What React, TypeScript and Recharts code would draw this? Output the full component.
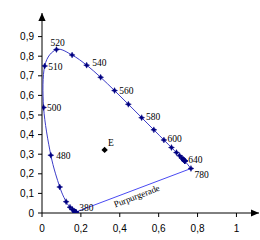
import React from 'react';
import { ScatterChart, Scatter, XAxis, YAxis, ReferenceDot } from 'recharts';

// Spectral locus (wavelength in nm, chromaticity x, y)
const wavelengths = [380, 390, 400, 410, 420, 430, 440, 450, 460, 470, 480, 490, 500, 510, 520, 530, 540, 550, 560, 570, 580, 590, 600, 610, 620, 630, 640, 650, 660, 670, 680, 690, 700, 780];
const locusX = [0.1741, 0.1738, 0.1733, 0.1726, 0.1714, 0.1689, 0.1644, 0.1566, 0.1440, 0.1241, 0.0913, 0.0454, 0.0082, 0.0139, 0.0743, 0.1547, 0.2296, 0.3016, 0.3731, 0.4441, 0.5125, 0.5752, 0.6270, 0.6658, 0.6915, 0.7079, 0.7190, 0.7260, 0.7300, 0.7334, 0.7347, 0.7347, 0.7347, 0.766];
const locusY = [0.0050, 0.0049, 0.0048, 0.0048, 0.0051, 0.0069, 0.0109, 0.0177, 0.0297, 0.0578, 0.1327, 0.2950, 0.5384, 0.7502, 0.8338, 0.8059, 0.7543, 0.6923, 0.6245, 0.5547, 0.4866, 0.4242, 0.3725, 0.3340, 0.3083, 0.2920, 0.2809, 0.2740, 0.2700, 0.2666, 0.2653, 0.2653, 0.2653, 0.227];

// Labels written next to locus points (text, wavelength of the point it sits beside)
const labelTexts = ['380', '480', '500', '510', '520', '540', '560', '580', '600', '640', '780'];
const labelAnchors = [380, 490, 500, 510, 520, 540, 560, 580, 600, 640, 780];

// Purple line endpoints (wavelengths)
const purpleEnds = [380, 780];
const purpleName = 'Purpurgerade';

// Equal-energy white point
const whiteX = [0.322];
const whiteY = [0.322];
const whiteLabel = ['E'];

// Axis ticks
const xTicks = [0, 0.2, 0.4, 0.6, 0.8, 1];
const yTicks = [0, 0.1, 0.2, 0.3, 0.4, 0.5, 0.6, 0.7, 0.8, 0.9];
const X_MAX = 1.116;
const Y_MAX = 1.0204;

// ---- styles / layout (not data) ----
const labelOffsets: Record<string, { dx: number; dy: number; anchor?: string }> = {
  '380': { dx: 3.5, dy: -4.5 },
  '480': { dx: 5.5, dy: 0 },
  '500': { dx: 3.5, dy: 0 },
  '510': { dx: 3.6, dy: 1 },
  '520': { dx: 1.3, dy: -7.3, anchor: 'middle' },
  '540': { dx: 5.5, dy: -2 },
  '560': { dx: 4.8, dy: 0 },
  '580': { dx: 4.4, dy: -0.6 },
  '600': { dx: 3.7, dy: -1 },
  '640': { dx: 6.4, dy: 2 },
  '780': { dx: 3.5, dy: 6.5 },
};

const locusData = wavelengths.map((w, i) => ({ w, x: locusX[i], y: locusY[i] }));
const byW = (w: number) => locusData.find((d) => d.w === w)!;
const labelData = labelTexts.map((t, i) => ({ text: t, x: byW(labelAnchors[i]).x, y: byW(labelAnchors[i]).y }));
const purpleData = purpleEnds.map((w) => ({ x: byW(w).x, y: byW(w).y }));
const whiteData = whiteX.map((x, i) => ({ x, y: whiteY[i], text: whiteLabel[i] }));
const purpleMid = { x: (purpleData[0].x + purpleData[1].x) / 2, y: (purpleData[0].y + purpleData[1].y) / 2 };

// Catmull-Rom curve factory (smooth line through the points)
const catmullRom: any = (context: any) => {
  let pts: number[][] = [];
  return {
    areaStart() {},
    areaEnd() {},
    lineStart() { pts = []; },
    point(x: number, y: number) { pts.push([+x, +y]); },
    lineEnd() {
      const n = pts.length;
      if (!n) return;
      context.moveTo(pts[0][0], pts[0][1]);
      for (let i = 0; i < n - 1; i++) {
        const p0 = pts[Math.max(i - 1, 0)];
        const p1 = pts[i];
        const p2 = pts[i + 1];
        const p3 = pts[Math.min(i + 2, n - 1)];
        const c1x = p1[0] + (p2[0] - p0[0]) / 6;
        const c1y = p1[1] + (p2[1] - p0[1]) / 6;
        const c2x = p2[0] - (p3[0] - p1[0]) / 6;
        const c2y = p2[1] - (p3[1] - p1[1]) / 6;
        context.bezierCurveTo(c1x, c1y, c2x, c2y, p2[0], p2[1]);
      }
    },
  };
};

const fmt = (v: number) => String(v).replace('.', ',');

const Star = (p: any) => {
  const { cx, cy } = p;
  if (cx == null || cy == null) return <g />;
  const o = 3, n = 1;
  const d = `M${cx},${cy - o}L${cx + n},${cy - n}L${cx + o},${cy}L${cx + n},${cy + n}L${cx},${cy + o}L${cx - n},${cy + n}L${cx - o},${cy}L${cx - n},${cy - n}Z`;
  return <path d={d} fill="#000080" stroke="#000080" strokeWidth={0.4} />;
};

const Diamond = (p: any) => {
  const { cx, cy } = p;
  const r = 3.2;
  return (
    <g>
      <path d={`M${cx},${cy - r}L${cx + r},${cy}L${cx},${cy + r}L${cx - r},${cy}Z`} fill="#000" />
      <text x={cx + 3.4} y={cy - 7} dy="0.35em" fontFamily="'Liberation Serif', 'Times New Roman', serif" fontSize={9.5} fill="#000">{p.payload?.text}</text>
    </g>
  );
};

const LabelText = (p: any) => {
  const { cx, cy, payload } = p;
  const off = labelOffsets[payload.text] || { dx: 4, dy: 0 };
  return (
    <text x={cx + off.dx} y={cy + off.dy} dy="0.35em" textAnchor={off.anchor || 'start'} fontFamily="'Liberation Serif', 'Times New Roman', serif" fontSize={9.5} fill="#000">
      {payload.text}
    </text>
  );
};

const Empty = () => <g />;

const ArrowRight = (p: any) => {
  const { cx, cy } = p;
  return <path d={`M${cx},${cy}L${cx - 8},${cy - 3.6}L${cx - 8},${cy + 3.6}Z`} fill="#000" />;
};
const ArrowUp = (p: any) => {
  const { cx, cy } = p;
  return <path d={`M${cx},${cy}L${cx - 3.6},${cy + 8}L${cx + 3.6},${cy + 8}Z`} fill="#000" />;
};
const PurpleText = (p: any) => {
  const { cx, cy } = p;
  return (
    <g transform={`translate(${cx},${cy}) rotate(-21)`}>
      <text x={1} y={6.5} dy="0.35em" textAnchor="middle" fontFamily="'Liberation Serif', 'Times New Roman', serif" fontSize={9} fill="#000">
        {purpleName}
      </text>
    </g>
  );
};

const tickStyle = { fontFamily: "'Liberation Sans', Arial, sans-serif", fontSize: 10, fill: '#000' };

export default function App() {
  return (
    <div style={{ position: 'absolute', left: 0, top: 0, width: 260, height: 240, background: '#fff' }}>
      <ScatterChart width={260} height={240} margin={{ top: 13, right: 1, bottom: 0, left: 0 }}>
        <XAxis
          type="number"
          dataKey="x"
          domain={[0, X_MAX]}
          ticks={xTicks}
          interval={0}
          allowDataOverflow
          height={27}
          tickSize={4}
          tickMargin={8}
          axisLine={{ stroke: '#000' }}
          tickLine={{ stroke: '#000' }}
          tick={tickStyle}
          tickFormatter={fmt}
        />
        <YAxis
          type="number"
          dataKey="y"
          domain={[0, Y_MAX]}
          ticks={yTicks}
          interval={0}
          allowDataOverflow
          width={42}
          tickSize={4}
          tickMargin={4}
          axisLine={{ stroke: '#000' }}
          tickLine={{ stroke: '#000' }}
          tick={tickStyle}
          tickFormatter={fmt}
        />
        <Scatter data={purpleData} line={{ stroke: '#4a4af2', strokeWidth: 1 }} shape={Empty} isAnimationActive={false} />
        <Scatter data={locusData} line={{ stroke: '#3c3cc8', strokeWidth: 1 }} lineJointType={catmullRom} shape={Star} isAnimationActive={false} />
        <Scatter data={labelData} shape={LabelText} isAnimationActive={false} />
        <Scatter data={whiteData} shape={Diamond} isAnimationActive={false} />
        <ReferenceDot x={purpleMid.x} y={purpleMid.y} ifOverflow="visible" shape={PurpleText} />
        <ReferenceDot x={X_MAX} y={0} ifOverflow="visible" shape={ArrowRight} />
        <ReferenceDot x={0} y={Y_MAX} ifOverflow="visible" shape={ArrowUp} />
      </ScatterChart>
    </div>
  );
}
